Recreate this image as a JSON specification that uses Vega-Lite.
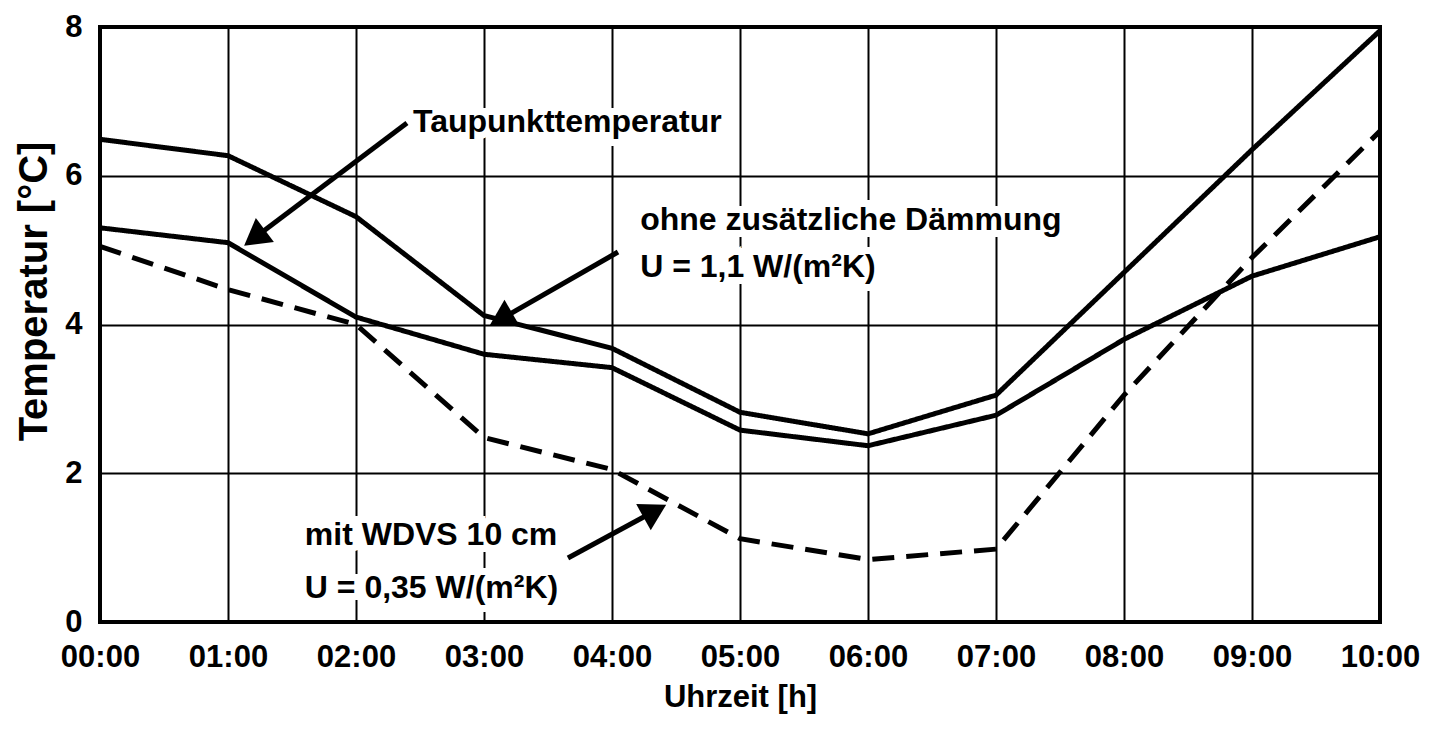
{
  "$schema": "https://vega.github.io/schema/vega-lite/v6.json",
  "width": 1280,
  "height": 595,
  "autosize": {"type": "none"},
  "padding": {"left": 100, "top": 27, "right": 49, "bottom": 109},
  "background": "white",
  "config": {
    "view": {"stroke": "black", "strokeWidth": 4},
    "font": "Liberation Sans",
    "axis": {
      "labelFont": "Liberation Sans",
      "labelFontWeight": "bold",
      "labelFontSize": 31,
      "labelColor": "black",
      "titleFont": "Liberation Sans",
      "titleFontWeight": "bold",
      "titleColor": "black",
      "grid": true,
      "gridColor": "black",
      "gridWidth": 2,
      "gridOpacity": 1,
      "domain": false,
      "ticks": false
    }
  },
  "layer": [
    {
      "data": {"values": [
        {"t": 0, "v": 6.49, "s": "ohne"}, {"t": 1, "v": 6.27, "s": "ohne"}, {"t": 2, "v": 5.45, "s": "ohne"}, {"t": 3, "v": 4.12, "s": "ohne"}, {"t": 4, "v": 3.68, "s": "ohne"}, {"t": 5, "v": 2.82, "s": "ohne"}, {"t": 6, "v": 2.53, "s": "ohne"}, {"t": 7, "v": 3.05, "s": "ohne"}, {"t": 8, "v": 4.7, "s": "ohne"}, {"t": 9, "v": 6.35, "s": "ohne"}, {"t": 10, "v": 7.95, "s": "ohne"},
        {"t": 0, "v": 5.3, "s": "Taupunkt"}, {"t": 1, "v": 5.1, "s": "Taupunkt"}, {"t": 2, "v": 4.1, "s": "Taupunkt"}, {"t": 3, "v": 3.6, "s": "Taupunkt"}, {"t": 4, "v": 3.42, "s": "Taupunkt"}, {"t": 5, "v": 2.58, "s": "Taupunkt"}, {"t": 6, "v": 2.37, "s": "Taupunkt"}, {"t": 7, "v": 2.78, "s": "Taupunkt"}, {"t": 8, "v": 3.8, "s": "Taupunkt"}, {"t": 9, "v": 4.65, "s": "Taupunkt"}, {"t": 10, "v": 5.18, "s": "Taupunkt"},
        {"t": 0, "v": 5.05, "s": "WDVS"}, {"t": 1, "v": 4.47, "s": "WDVS"}, {"t": 2, "v": 4.0, "s": "WDVS"}, {"t": 3, "v": 2.48, "s": "WDVS"}, {"t": 4, "v": 2.05, "s": "WDVS"}, {"t": 5, "v": 1.12, "s": "WDVS"}, {"t": 6, "v": 0.84, "s": "WDVS"}, {"t": 7, "v": 0.98, "s": "WDVS"}, {"t": 8, "v": 3.05, "s": "WDVS"}, {"t": 9, "v": 4.9, "s": "WDVS"}, {"t": 10, "v": 6.6, "s": "WDVS"}
      ]},
      "mark": {"type": "line", "color": "black", "strokeWidth": 5},
      "encoding": {
        "x": {
          "field": "t", "type": "quantitative",
          "scale": {"domain": [0, 10], "nice": false, "zero": false},
          "axis": {
            "values": [0, 1, 2, 3, 4, 5, 6, 7, 8, 9, 10],
            "labelExpr": "(datum.value < 10 ? '0' : '') + datum.value + ':00'",
            "labelPadding": 20,
            "labelFlush": false,
            "title": "Uhrzeit [h]",
            "titleFontSize": 31,
            "titleBaseline": "alphabetic",
            "titleY": 84
          }
        },
        "y": {
          "field": "v", "type": "quantitative",
          "scale": {"domain": [0, 8], "nice": false},
          "axis": {
            "values": [0, 2, 4, 6, 8],
            "format": "d",
            "labelPadding": 18,
            "labelFlush": false,
            "title": "Temperatur [°C]",
            "titleFontSize": 40,
            "titleBaseline": "alphabetic",
            "titleAngle": -90,
            "titleX": -54,
            "titleY": 264
          }
        },
        "detail": {"field": "s"},
        "strokeDash": {
          "field": "s", "type": "nominal",
          "scale": {"domain": ["ohne", "Taupunkt", "WDVS"], "range": [[1, 0], [1, 0], [22, 12]]},
          "legend": null
        }
      }
    },
    {
      "data": {"values": [
        {"t": 2.445, "v": 6.59, "txt": "Taupunkttemperatur"},
        {"t": 4.22, "v": 5.27, "txt": "ohne zusätzliche Dämmung"},
        {"t": 4.22, "v": 4.64, "txt": "U = 1,1 W/(m²K)"},
        {"t": 1.6, "v": 1.035, "txt": "mit WDVS 10 cm"},
        {"t": 1.6, "v": 0.323, "txt": "U = 0,35 W/(m²K)"}
      ]},
      "mark": {"type": "text", "align": "left", "baseline": "alphabetic", "font": "Liberation Sans", "fontWeight": "bold", "fontSize": 32, "fill": "white", "stroke": "white", "strokeWidth": 14},
      "encoding": {
        "x": {"field": "t", "type": "quantitative"},
        "y": {"field": "v", "type": "quantitative"},
        "text": {"field": "txt"}
      }
    },
    {
      "data": {"values": [
        {"t": 2.445, "v": 6.59, "txt": "Taupunkttemperatur"},
        {"t": 4.22, "v": 5.27, "txt": "ohne zusätzliche Dämmung"},
        {"t": 4.22, "v": 4.64, "txt": "U = 1,1 W/(m²K)"},
        {"t": 1.6, "v": 1.035, "txt": "mit WDVS 10 cm"},
        {"t": 1.6, "v": 0.323, "txt": "U = 0,35 W/(m²K)"}
      ]},
      "mark": {"type": "text", "align": "left", "baseline": "alphabetic", "font": "Liberation Sans", "fontWeight": "bold", "fontSize": 32, "color": "black"},
      "encoding": {
        "x": {"field": "t", "type": "quantitative"},
        "y": {"field": "v", "type": "quantitative"},
        "text": {"field": "txt"}
      }
    },
    {
      "data": {"values": [
        {"t": 2.398, "v": 6.71, "t2": 1.234, "v2": 5.2},
        {"t": 4.047, "v": 4.975, "t2": 3.16, "v2": 4.1},
        {"t": 3.656, "v": 0.86, "t2": 4.305, "v2": 1.465}
      ]},
      "mark": {"type": "rule", "color": "black", "strokeWidth": 5},
      "encoding": {
        "x": {"field": "t", "type": "quantitative"},
        "y": {"field": "v", "type": "quantitative"},
        "x2": {"field": "t2"},
        "y2": {"field": "v2"}
      }
    },
    {
      "data": {"values": [
        {"t": 1.234, "v": 5.2, "ang": 233},
        {"t": 3.16, "v": 4.1, "ang": 240},
        {"t": 4.305, "v": 1.465, "ang": 61}
      ]},
      "mark": {"type": "point", "shape": "triangle", "filled": true, "color": "black", "opacity": 1, "size": 900},
      "encoding": {
        "x": {"field": "t", "type": "quantitative"},
        "y": {"field": "v", "type": "quantitative"},
        "angle": {"field": "ang", "type": "quantitative", "scale": null}
      }
    }
  ]
}
